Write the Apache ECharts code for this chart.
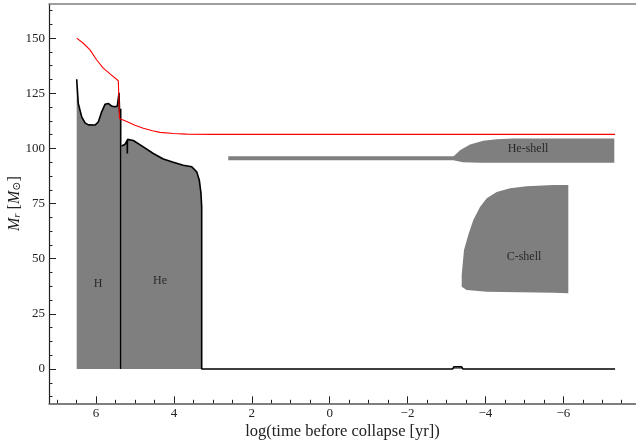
<!DOCTYPE html>
<html><head><meta charset="utf-8">
<script src="https://cdn.jsdelivr.net/npm/echarts@6/dist/echarts.min.js"></script>
<style>html,body{margin:0;padding:0;background:#fff}#c{width:636px;height:445px}</style>
</head><body><div id="c"></div>
<script>
// Tick values
const xMajorTicks = [6, 4, 2, 0, -2, -4, -6];
const xMinorTicks = [7, 6.5, 5.5, 5, 4.5, 3.5, 3, 2.5, 1.5, 1, 0.5, -0.5, -1, -1.5, -2.5, -3, -3.5, -4.5, -5, -5.5, -6.5, -7, -7.5];
const yMajorTicks = [0, 25, 50, 75, 100, 125, 150];
const yMinorTicks = [-12.5, -6.25, 6.25, 12.5, 18.75, 31.25, 37.5, 43.75, 56.25, 62.5, 68.75, 81.25, 87.5, 93.75, 106.25, 112.5, 118.75, 131.25, 137.5, 143.75, 156.25, 162.5];

// Total mass (red)
const totalMass = [[6.496,150],[6.326,147.7],[6.154,144.7],[5.982,140.1],[5.813,136.4],[5.640,133.8],[5.427,130.7],[5.400,130.4],[5.397,113.6],[5.366,113.4],[5.212,112.2],[5.0,110.5],[4.785,109.2],[4.55,108.0],[4.356,107.3],[4.0,106.8],[3.671,106.5],[3.0,106.4],[-7.33,106.4]];

// H-burning convective core boundary
const hCoreTop = [[6.496,131.4],[6.455,120.4],[6.367,114.3],[6.282,111.6],[6.198,110.7],[6.026,110.6],[5.941,112.0],[5.854,116.6],[5.769,120.0],[5.684,120.4],[5.597,119.2],[5.512,118.9],[5.453,119.2],[5.409,125.2],[5.395,116.5],[5.384,115.5],[5.366,118.0],[5.366,0]];

// He-burning convective core boundary (then zero line)
const heCoreTop = [[5.345,101.1],[5.26,101.8],[5.212,102.1],[5.198,103.6],[5.196,97.7],[5.193,104.1],[5.171,104.1],[5.042,103.6],[4.785,100.7],[4.529,97.7],[4.272,95.2],[4.015,93.7],[3.758,92.4],[3.542,91.7],[3.414,89.4],[3.347,85.6],[3.304,79.6],[3.286,73.5],[3.286,0],[-3.16,0],[-3.19,1.0],[-3.39,1.0],[-3.42,0],[-7.33,0]];

// He-shell convective zone (polygon)
const heShell = [[2.603,94.6],[-3.176,94.6],[-3.42,93.7],[-3.86,93.5],[-7.31,93.5],[-7.31,104.5],[-4.716,104.5],[-4.29,104.2],[-3.946,103.5],[-3.605,101.8],[-3.348,99.2],[-3.22,97.0],[-3.176,96.5],[2.603,96.5]];

// C-shell convective zone (polygon)
const cShell = [[-3.391,37.3],[-3.519,35.8],[-4.033,35.0],[-4.888,34.8],[-5.744,34.6],[-6.129,34.3],[-6.129,83.4],[-5.744,83.4],[-5.06,82.9],[-4.632,81.9],[-4.29,80.3],[-4.033,77.4],[-3.861,73.5],[-3.689,67.5],[-3.56,60.7],[-3.45,53.9],[-3.391,42.6]];

// Region labels
const regionLabels = [[5.949,38.5,'H'],[4.356,39.9,'He'],[-5.094,99.8,'He-shell'],[-4.991,50.8,'C-shell']];

const FONT = 'Liberation Serif, DejaVu Serif, serif';
const GRAY = '#7f7f7f';
const XMIN = -7.867, XMAX = 7.207, YMIN = -15.56, YMAX = 165.5;

function xFmt(v){ return v < 0 ? '\u2212' + (-v) : String(v); }

function polySeries(pts){
  return {
    type:'custom', xAxisIndex:0, yAxisIndex:0, z:1, silent:true, clip:false,
    data:[pts[0]],
    renderItem:function(params, api){
      return {type:'polygon', shape:{points:pts.map(p=>api.coord(p))}, style:{fill:GRAY, stroke:null}};
    }
  };
}

const chart = echarts.init(document.getElementById('c'), null, {renderer:'canvas'});
chart.setOption({
  animation:false,
  backgroundColor:'#fff',
  grid:{left:49, right:0, top:4, bottom:41.7, outerBoundsMode:'none', containLabel:false},
  xAxis:[
    {type:'value', position:'bottom', inverse:true, min:XMIN, max:XMAX,
     axisLine:{show:true, onZero:false, lineStyle:{color:'#555', width:1.5}},
     axisTick:{show:true, inside:true, length:7, customValues:xMajorTicks, lineStyle:{color:'#222', width:1}},
     axisLabel:{show:true, customValues:xMajorTicks, formatter:xFmt, margin:4, color:'#222', fontFamily:FONT, fontSize:13},
     splitLine:{show:false},
     name:'log(time before collapse [yr])', nameLocation:'middle', nameGap:20, nameMoveOverlap:false,
     nameTextStyle:{fontFamily:FONT, fontSize:16.5, color:'#222'}},
    {type:'value', position:'bottom', inverse:true, min:XMIN, max:XMAX,
     axisLine:{show:false, onZero:false},
     axisTick:{show:true, inside:true, length:3.5, customValues:xMinorTicks, lineStyle:{color:'#222', width:1}},
     axisLabel:{show:false}, splitLine:{show:false}},
    {type:'value', position:'top', inverse:true, min:XMIN, max:XMAX,
     axisLine:{show:true, onZero:false, lineStyle:{color:'#808080', width:1.5}},
     axisTick:{show:false}, axisLabel:{show:false}, splitLine:{show:false}}
  ],
  yAxis:[
    {type:'value', position:'left', min:YMIN, max:YMAX,
     axisLine:{show:true, onZero:false, lineStyle:{color:'#222', width:1.2}},
     axisTick:{show:true, inside:true, length:7, customValues:yMajorTicks, lineStyle:{color:'#222', width:1}},
     axisLabel:{show:true, customValues:yMajorTicks, margin:4, color:'#222', fontFamily:FONT, fontSize:13},
     splitLine:{show:false},
     name:'{i|M}{s|r} [{i|M}{s|\u2299}]', nameLocation:'middle', nameGap:26, nameMoveOverlap:false,
     nameTextStyle:{fontFamily:FONT, fontSize:16, color:'#222',
       rich:{i:{fontFamily:FONT, fontStyle:'italic', fontSize:16, color:'#222'},
             s:{fontFamily:FONT, fontStyle:'italic', fontSize:11, color:'#222', verticalAlign:'bottom', lineHeight:14}}}},
    {type:'value', position:'left', min:YMIN, max:YMAX,
     axisLine:{show:false, onZero:false},
     axisTick:{show:true, inside:true, length:3.5, customValues:yMinorTicks, lineStyle:{color:'#222', width:1}},
     axisLabel:{show:false}, splitLine:{show:false}}
  ],
  series:[
    polySeries(heShell),
    polySeries(cShell),
    {type:'line', data:hCoreTop, xAxisIndex:0, yAxisIndex:0, symbol:'none', z:3,
     lineStyle:{color:'#000', width:1.6}, areaStyle:{color:GRAY, opacity:1, origin:0}},
    {type:'line', data:heCoreTop, xAxisIndex:0, yAxisIndex:0, symbol:'none', z:3,
     lineStyle:{color:'#000', width:1.6}, areaStyle:{color:GRAY, opacity:1, origin:0}},
    {type:'line', data:totalMass, xAxisIndex:0, yAxisIndex:0, symbol:'none', z:4,
     lineStyle:{color:'#ff0000', width:1.1}},
    {type:'scatter', data:regionLabels, xAxisIndex:0, yAxisIndex:0, symbolSize:0, z:5, silent:true,
     encode:{x:0, y:1},
     label:{show:true, position:'inside', formatter:p=>p.data[2], fontFamily:FONT, fontSize:12, color:'#111'}}
  ]
});
</script></body></html>
